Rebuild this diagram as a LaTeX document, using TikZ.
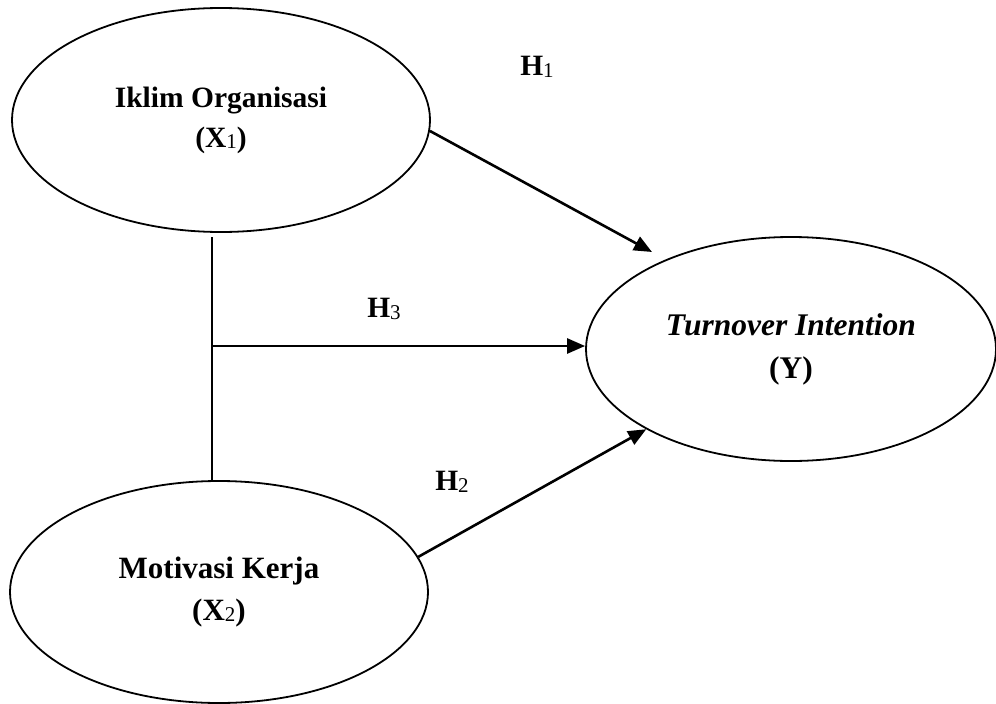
\documentclass[tikz,border=0pt]{standalone}
\usepackage{fontspec}
\setmainfont{Liberation Serif}
\usetikzlibrary{arrows.meta,shapes.geometric}
\newcommand{\mysub}[1]{\raisebox{-1.5pt}{\fontsize{21}{21}\selectfont\mdseries #1}}
\tikzset{
  latent/.style={ellipse, draw, line width=1.8pt, inner sep=0pt, align=center,
    font=\fontsize{29.5}{40}\selectfont\bfseries},
  path/.style={line width=2.6pt, -{Triangle[length=18pt,width=15pt]}},
  link/.style={line width=2pt},
  hlabel/.style={font=\fontsize{29.5}{29.5}\selectfont\bfseries, inner sep=0pt}
}
\begin{document}
\begin{tikzpicture}[x=1pt,y=-1pt]
\path[use as bounding box] (0,0) rectangle (996,704);
\node[latent, minimum width=418pt, minimum height=224pt] (e1) at (221,120) {Iklim Organisasi\\(X\mysub{1})};
\node[latent, minimum width=418pt, minimum height=222pt, font=\fontsize{31}{42}\selectfont\bfseries] (e2) at (219,592) {Motivasi Kerja\\(X\mysub{2})};
\node[latent, minimum width=410pt, minimum height=224pt, font=\fontsize{31.5}{43}\selectfont\bfseries] (e3) at (791,349) {\textit{Turnover Intention}\\(Y)};
\coordinate (v1) at (212,237);
\coordinate (j) at (212,346);
\coordinate (t1) at (652,252);
\draw[link] (v1) -- (v1 |- e2.north);
\draw[path] (j) -- (j -| e3.west);
\draw[path] (e1.-3) -- (t1);
\draw[path] (e2.10) -- (e3.209);
\node[hlabel] (h1) at (537,67) {H\mysub{1}};
\node[hlabel] (h3) at (384,309) {H\mysub{3}};
\node[hlabel] (h2) at (452,482) {H\mysub{2}};
\end{tikzpicture}
\end{document}
